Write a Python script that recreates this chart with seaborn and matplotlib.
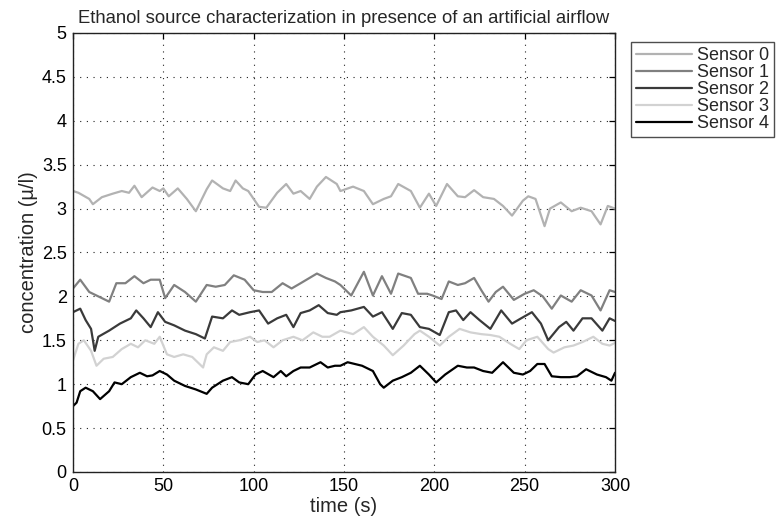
import pandas as pd
import matplotlib
matplotlib.use("Agg")
import matplotlib.pyplot as plt
import seaborn as sns

# Leituras estimadas do gráfico (tempo em s, concentração em µl/l)
t0 = [0, 3, 9, 11, 16, 22, 27, 31, 34, 38, 44, 48, 50, 53, 58, 63, 68, 74, 77, 83, 87, 90, 94, 97, 103,
      107, 113, 118, 122, 126, 131, 135, 140, 146, 148, 155, 161, 166, 172, 176, 180, 187, 192, 197, 201,
      207, 213, 217, 222, 227, 233, 238, 243, 249, 252, 256, 261, 264, 270, 276, 281, 287, 292, 296, 300]
c0 = [3.20, 3.18, 3.11, 3.05, 3.13, 3.17, 3.20, 3.18, 3.26, 3.13, 3.24, 3.20, 3.23, 3.14, 3.23, 3.11,
      2.97, 3.22, 3.32, 3.23, 3.20, 3.32, 3.23, 3.20, 3.02, 3.01, 3.18, 3.28, 3.17, 3.20, 3.11, 3.25,
      3.36, 3.28, 3.20, 3.25, 3.20, 3.05, 3.11, 3.14, 3.28, 3.20, 3.01, 3.17, 3.03, 3.28, 3.14, 3.13,
      3.21, 3.13, 3.11, 3.03, 2.92, 3.09, 3.14, 3.11, 2.80, 3.00, 3.07, 2.97, 3.01, 2.97, 2.82, 3.03, 3.00]

t1 = [0, 4, 9, 14, 20, 24, 29, 34, 39, 43, 48, 51, 56, 62, 68, 74, 79, 84, 89, 95, 100, 105, 110, 116,
      121, 126, 135, 140, 145, 148, 154, 161, 166, 171, 176, 180, 187, 191, 196, 199, 204, 208, 213, 217,
      222, 226, 230, 234, 238, 244, 250, 255, 260, 265, 270, 276, 281, 287, 292, 297, 300]
c1 = [2.09, 2.19, 2.05, 2.00, 1.94, 2.15, 2.15, 2.23, 2.15, 2.19, 2.19, 1.98, 2.13, 2.05, 1.94, 2.13,
      2.11, 2.13, 2.24, 2.19, 2.07, 2.05, 2.05, 2.15, 2.09, 2.15, 2.26, 2.21, 2.17, 2.13, 2.01, 2.28,
      2.01, 2.23, 2.03, 2.26, 2.21, 2.03, 2.03, 2.01, 1.97, 2.17, 2.13, 2.15, 2.21, 2.07, 1.94, 2.05,
      2.11, 1.96, 2.03, 2.07, 2.00, 1.86, 2.01, 1.94, 2.07, 2.01, 1.84, 2.07, 2.05]

t2 = [0, 4, 7, 10, 12, 14, 20, 26, 32, 35, 39, 43, 47, 51, 56, 62, 68, 73, 77, 83, 88, 92, 98, 103, 108,
      113, 118, 122, 126, 131, 136, 141, 146, 148, 154, 161, 166, 171, 177, 182, 187, 192, 197, 203, 208,
      212, 216, 220, 225, 231, 237, 243, 248, 254, 259, 263, 269, 273, 277, 282, 287, 293, 297, 300]
c2 = [1.82, 1.86, 1.73, 1.63, 1.38, 1.54, 1.61, 1.69, 1.75, 1.84, 1.75, 1.65, 1.82, 1.71, 1.67, 1.61,
      1.57, 1.52, 1.77, 1.75, 1.84, 1.79, 1.82, 1.84, 1.69, 1.75, 1.79, 1.65, 1.81, 1.84, 1.90, 1.81,
      1.79, 1.82, 1.84, 1.88, 1.77, 1.82, 1.63, 1.81, 1.79, 1.65, 1.63, 1.56, 1.82, 1.84, 1.73, 1.82,
      1.73, 1.63, 1.84, 1.69, 1.75, 1.82, 1.69, 1.50, 1.65, 1.71, 1.61, 1.75, 1.75, 1.61, 1.75, 1.72]

t3 = [0, 3, 6, 10, 13, 17, 22, 27, 32, 36, 40, 45, 48, 52, 56, 61, 66, 72, 74, 78, 83, 87, 92, 98, 102,
      106, 111, 116, 122, 127, 133, 138, 142, 148, 155, 161, 166, 172, 177, 183, 189, 192, 197, 203, 208,
      214, 220, 226, 231, 236, 242, 247, 251, 257, 263, 266, 272, 277, 282, 288, 293, 297, 300]
c3 = [1.27, 1.46, 1.50, 1.38, 1.21, 1.29, 1.31, 1.40, 1.46, 1.42, 1.50, 1.46, 1.54, 1.34, 1.31, 1.34,
      1.31, 1.19, 1.34, 1.42, 1.38, 1.48, 1.50, 1.54, 1.48, 1.50, 1.42, 1.50, 1.54, 1.50, 1.59, 1.54,
      1.54, 1.61, 1.57, 1.65, 1.54, 1.44, 1.33, 1.44, 1.57, 1.61, 1.54, 1.44, 1.54, 1.63, 1.59, 1.57,
      1.56, 1.54, 1.46, 1.40, 1.50, 1.54, 1.40, 1.36, 1.42, 1.44, 1.48, 1.54, 1.46, 1.44, 1.47]

t4 = [0, 2, 4, 7, 11, 15, 20, 23, 27, 32, 37, 41, 44, 48, 52, 56, 62, 68, 74, 77, 83, 88, 92, 97, 101,
      105, 111, 115, 118, 122, 126, 131, 137, 141, 145, 148, 152, 160, 166, 170, 172, 177, 182, 187, 192,
      197, 201, 206, 213, 218, 222, 227, 232, 238, 244, 249, 253, 257, 261, 265, 270, 275, 279, 284, 290,
      295, 298, 300]
c4 = [0.75, 0.79, 0.92, 0.96, 0.92, 0.83, 0.92, 1.02, 1.00, 1.08, 1.13, 1.09, 1.10, 1.15, 1.11, 1.04,
      0.98, 0.94, 0.89, 0.96, 1.04, 1.08, 1.02, 1.00, 1.11, 1.15, 1.08, 1.15, 1.09, 1.15, 1.19, 1.19,
      1.25, 1.19, 1.21, 1.21, 1.25, 1.21, 1.15, 1.00, 0.96, 1.04, 1.08, 1.13, 1.21, 1.11, 1.02, 1.11,
      1.21, 1.19, 1.19, 1.15, 1.13, 1.25, 1.13, 1.11, 1.15, 1.23, 1.23, 1.09, 1.08, 1.08, 1.09, 1.17,
      1.11, 1.08, 1.04, 1.13]

nomes = ['Sensor 0', 'Sensor 1', 'Sensor 2', 'Sensor 3', 'Sensor 4']
cores = ['#b2b2b2', '#808080', '#3a3a3a', '#d2d2d2', '#000000']

# Tabela longa para o seaborn
partes = []
for nome, t, c in zip(nomes, [t0, t1, t2, t3, t4], [c0, c1, c2, c3, c4]):
    partes.append(pd.DataFrame({'tempo': t, 'conc': c, 'sensor': nome}))
df = pd.concat(partes, ignore_index=True)

sns.set_style('white')
plt.rcParams['font.family'] = ['Liberation Sans', 'DejaVu Sans']

fig = plt.figure(figsize=(7.79, 5.27), dpi=100)
ax = fig.add_axes([0.0937, 0.1044, 0.6958, 0.833])

sns.lineplot(data=df, x='tempo', y='conc', hue='sensor', hue_order=nomes,
             palette=dict(zip(nomes, cores)), estimator=None, sort=True,
             linewidth=1.6, ax=ax, legend=False)

ax.set_xlim(0, 300)
ax.set_ylim(0, 5)
ax.set_xticks(range(0, 301, 50))
ax.set_yticks([0, 0.5, 1, 1.5, 2, 2.5, 3, 3.5, 4, 4.5, 5])
ax.set_yticklabels(['0', '0.5', '1', '1.5', '2', '2.5', '3', '3.5', '4', '4.5', '5'])
ax.tick_params(direction='in', top=True, right=True, labelsize=13, length=4.5, width=0.9,
               colors='black', pad=4.5)
ax.grid(True, linestyle=(0, (1, 5)), color='#222222', linewidth=0.8)
for s in ax.spines.values():
    s.set_visible(True)
    s.set_color('#222222')
    s.set_linewidth(1.0)

ax.set_xlabel('time (s)', fontsize=14.5, labelpad=1)
ax.set_ylabel('concentration (\u00b5/l)', fontsize=14.5, labelpad=3)
ax.set_title('Ethanol source characterization in presence of an artificial airflow',
             fontsize=13.3, pad=7)

# Legenda fora do eixo, à direita
handles = [plt.Line2D([], [], color=c, linewidth=1.6) for c in cores]
leg = fig.legend(handles, nomes, loc='upper left', bbox_to_anchor=(0.810, 0.921),
                 fontsize=13, frameon=True, fancybox=False, handlelength=3.1,
                 handletextpad=0.25, labelspacing=0.0, borderpad=0.3, borderaxespad=0)
leg.get_frame().set_edgecolor('#222222')
leg.get_frame().set_linewidth(1.0)

fig.savefig('out.png', dpi=100)
